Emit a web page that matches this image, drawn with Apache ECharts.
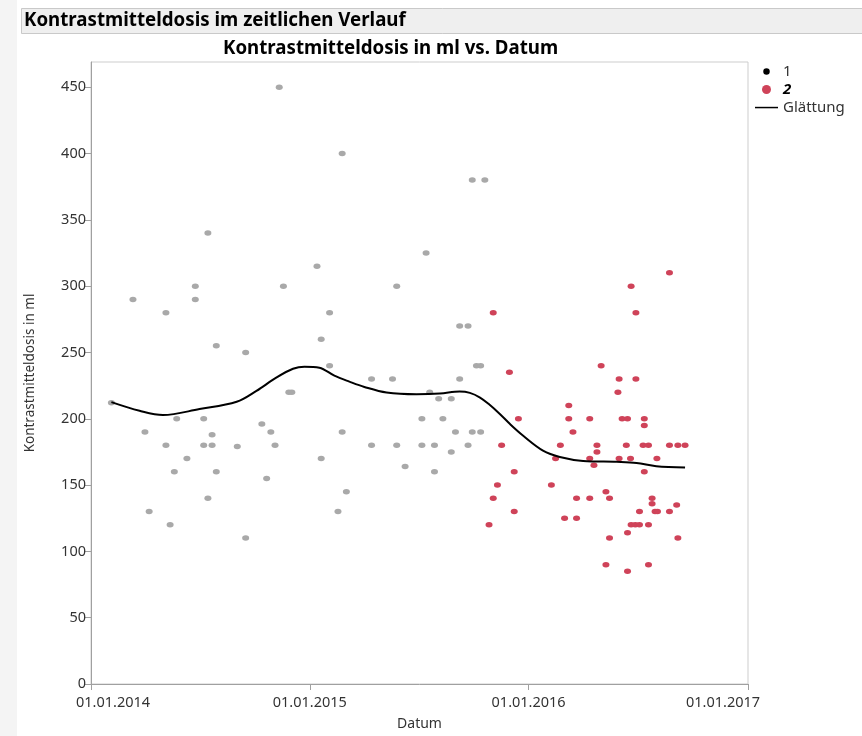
<!DOCTYPE html>
<html>
<head>
<meta charset="utf-8">
<script src="https://cdn.jsdelivr.net/npm/echarts@6/dist/echarts.min.js"></script>
<style>
  html, body { margin: 0; padding: 0; background: #fff; }
  #chart { width: 862px; height: 736px; }
</style>
</head>
<body>
<div id="chart"></div>
<script>
// Gruppe 1 (grau): Untersuchungsdatum und Kontrastmitteldosis in ml
const group1Dates = [
  '2014-02-04','2014-03-12','2014-04-01','2014-04-08','2014-05-06','2014-05-06','2014-05-13','2014-05-20',
  '2014-05-24','2014-06-10','2014-06-24','2014-06-24','2014-07-08','2014-07-08','2014-07-15','2014-07-15',
  '2014-07-22','2014-07-22','2014-07-29','2014-07-29','2014-09-02','2014-09-16','2014-09-16','2014-10-13',
  '2014-10-21','2014-10-28','2014-11-04','2014-11-11','2014-11-18','2014-11-27','2014-12-02',
  '2015-01-13','2015-01-20','2015-01-20','2015-02-03','2015-02-03','2015-02-17','2015-02-24','2015-02-24',
  '2015-03-03','2015-04-14','2015-04-14','2015-05-19','2015-05-26','2015-05-26','2015-06-09','2015-07-07',
  '2015-07-07','2015-07-14','2015-07-20','2015-07-28','2015-07-28','2015-08-04','2015-08-11','2015-08-25',
  '2015-08-25','2015-09-01','2015-09-08','2015-09-08','2015-09-22','2015-09-22','2015-09-29','2015-09-29',
  '2015-10-06','2015-10-13','2015-10-13','2015-10-20'
];
const group1Values = [
  212, 290, 190, 130, 280, 180, 120, 160,
  200, 170, 300, 290, 200, 180, 340, 140,
  188, 180, 255, 160, 179, 250, 110, 196,
  155, 190, 180, 450, 300, 220, 220,
  315, 260, 170, 280, 240, 130, 400, 190,
  145, 230, 180, 230, 300, 180, 164, 200,
  180, 325, 220, 180, 160, 215, 200, 215,
  175, 190, 230, 270, 270, 180, 380, 190,
  240, 240, 190, 380
];

// Gruppe 2 (rot)
const group2Dates = [
  '2015-10-27','2015-11-03','2015-11-03','2015-11-10','2015-11-17','2015-11-30','2015-12-08','2015-12-08',
  '2015-12-15','2016-02-08','2016-02-15','2016-02-23','2016-03-01','2016-03-08','2016-03-08','2016-03-15',
  '2016-03-21','2016-03-21','2016-04-12','2016-04-12','2016-04-12','2016-04-19','2016-04-24','2016-04-24',
  '2016-05-01','2016-05-09','2016-05-09','2016-05-15','2016-05-15','2016-05-29','2016-05-31','2016-05-31',
  '2016-06-05','2016-06-12','2016-06-14','2016-06-14','2016-06-14','2016-06-19','2016-06-20','2016-06-20',
  '2016-06-27','2016-06-28','2016-06-28','2016-07-04','2016-07-04','2016-07-10','2016-07-12','2016-07-12',
  '2016-07-12','2016-07-19','2016-07-19','2016-07-19','2016-07-25','2016-07-25','2016-07-30','2016-08-02',
  '2016-08-03','2016-08-23','2016-08-23','2016-08-23','2016-09-04','2016-09-06','2016-09-06','2016-09-18'
];
const group2Values = [
  120, 280, 140, 150, 180, 235, 160, 130,
  200, 150, 170, 180, 125, 210, 200, 190,
  140, 125, 200, 170, 140, 165, 180, 175,
  240, 145, 90, 140, 110, 220, 230, 170,
  200, 180, 200, 114, 85, 170, 300, 120,
  120, 280, 230, 130, 120, 180, 200, 195,
  160, 180, 120, 90, 140, 136, 130, 170,
  130, 310, 180, 130, 135, 180, 110, 180
];

// Glättungskurve
const smoothDates = [
  '2014-02-04','2014-03-23','2014-05-01','2014-07-01','2014-09-01','2014-10-04','2014-11-06','2014-12-04',
  '2014-12-23','2015-01-17','2015-02-11','2015-03-08','2015-04-02','2015-05-09','2015-06-28','2015-08-06',
  '2015-09-08','2015-09-25','2015-10-12','2015-10-28','2015-11-14','2015-12-01','2015-12-23','2016-01-25',
  '2016-02-22','2016-04-01','2016-05-27','2016-06-29','2016-08-01','2016-09-18'
];
const smoothValues = [
  212.5, 206, 202.8, 207.3, 212.8, 221, 231, 237.7,
  239.3, 238.5, 232.5, 228, 224, 219.8, 218.5, 219,
  220.5, 219.5, 216, 210.5, 203.6, 196, 187.2, 176,
  171.2, 168.2, 167.5, 166.7, 164.2, 163.2
];

// Achsenbeschriftungen
const xTickDates = ['2014-01-01', '2015-01-01', '2016-01-01', '2017-01-01'];
const yTickValues = [0, 50, 100, 150, 200, 250, 300, 350, 400, 450];

const FONT = 'Noto Sans';
const toTime = s => { const p = s.split('-').map(Number); return Date.UTC(p[0], p[1] - 1, p[2]); };
const zip = (dates, values) => dates.map((d, i) => [toTime(d), values[i]]);
const xTicks = xTickDates.map(toTime);
const pad2 = n => (n < 10 ? '0' : '') + n;
const fmtDate = v => { const d = new Date(v); return pad2(d.getUTCDate()) + '.' + pad2(d.getUTCMonth() + 1) + '.' + d.getUTCFullYear(); };

const RED = '#cf4359';
const GREY = '#a9a9a9';
const TICK_FONT = 14.5;

const chart = echarts.init(document.getElementById('chart'), null, { renderer: 'canvas' });

chart.setOption({
  animation: false,
  backgroundColor: '#fff',
  textStyle: { fontFamily: FONT },
  graphic: [
    { type: 'rect', left: 0, top: 0, shape: { width: 17, height: 736 }, style: { fill: '#f4f4f4' }, silent: true },
    { type: 'rect', left: 21, top: 8, shape: { width: 845, height: 25 }, style: { fill: '#efefef', stroke: '#c9c9c9', lineWidth: 1 }, silent: true },
    { type: 'text', x: 24, y: 21, style: { text: 'Kontrastmitteldosis im zeitlichen Verlauf', font: 'bold 18.7px "' + FONT + '"', fill: '#000', verticalAlign: 'middle' }, silent: true }
  ],
  title: {
    text: 'Kontrastmitteldosis in ml vs. Datum',
    left: 218, top: 34,
    textStyle: { fontFamily: FONT, fontSize: 18.7, fontWeight: 'bold', color: '#000' }
  },
  legend: {
    orient: 'vertical',
    left: 755, top: 64, padding: 0,
    itemWidth: 23, itemHeight: 9, itemGap: 3,
    selectedMode: false,
    textStyle: { fontFamily: FONT, fontSize: 15, color: '#333' },
    data: [
      { name: '1', icon: 'circle', itemStyle: { color: '#000', borderColor: '#fff', borderWidth: 2.5 } },
      { name: '2', icon: 'circle', itemStyle: { color: RED }, textStyle: { fontWeight: 'bold', fontStyle: 'italic', color: '#000' } },
      { name: 'Glättung', icon: 'path://M0,0M0,9M0,3.8H23V5.3H0Z', itemStyle: { color: '#000' } }
    ]
  },
  grid: { left: 91, top: 62, width: 657, height: 627, show: true, borderColor: '#cdcdcd', borderWidth: 1 },
  xAxis: {
    type: 'value',
    min: xTicks[0], max: xTicks[xTicks.length - 1],
    name: 'Datum', nameLocation: 'middle', nameGap: 33,
    nameTextStyle: { fontFamily: FONT, fontSize: 14, color: '#333' },
    axisLine: { lineStyle: { color: '#a0a0a0' } },
    axisTick: { show: true, length: 6, customValues: xTicks, lineStyle: { color: '#a0a0a0' } },
    axisLabel: {
      customValues: xTicks, margin: 11, color: '#333', fontSize: TICK_FONT, fontFamily: FONT,
      showMinLabel: true, showMaxLabel: true,
      formatter: v => {
        const s = fmtDate(v);
        if (v === xTicks[0]) return '{first|' + s + '}';
        if (v === xTicks[xTicks.length - 1]) return '{last|' + s + '}';
        return s;
      },
      rich: {
        first: { padding: [0, 0, 0, 44], fontSize: TICK_FONT, color: '#333', fontFamily: FONT },
        last: { padding: [0, 50, 0, 0], fontSize: TICK_FONT, color: '#333', fontFamily: FONT }
      }
    },
    splitLine: { show: false }
  },
  yAxis: {
    type: 'value',
    min: 0, max: 469,
    name: 'Kontrastmitteldosis in ml', nameLocation: 'middle', nameGap: 54,
    nameTextStyle: { fontFamily: FONT, fontSize: 13.5, color: '#333' },
    axisLine: { show: true, lineStyle: { color: '#a0a0a0' } },
    axisTick: { show: true, length: 6, customValues: yTickValues, lineStyle: { color: '#a0a0a0' } },
    axisLabel: { customValues: yTickValues, margin: 5, color: '#333', fontSize: TICK_FONT, fontFamily: FONT },
    splitLine: { show: false }
  },
  series: [
    {
      name: '1', type: 'scatter',
      symbol: 'circle', symbolSize: [7, 5.5],
      itemStyle: { color: GREY, opacity: 1 },
      data: zip(group1Dates, group1Values)
    },
    {
      name: '2', type: 'scatter',
      symbol: 'circle', symbolSize: [7, 5.5],
      itemStyle: { color: RED, opacity: 1 },
      data: zip(group2Dates, group2Values)
    },
    {
      name: 'Glättung', type: 'line',
      smooth: 0.35, symbol: 'none', z: 5,
      lineStyle: { color: '#000', width: 2 },
      data: zip(smoothDates, smoothValues)
    }
  ]
});
</script>
</body>
</html>
